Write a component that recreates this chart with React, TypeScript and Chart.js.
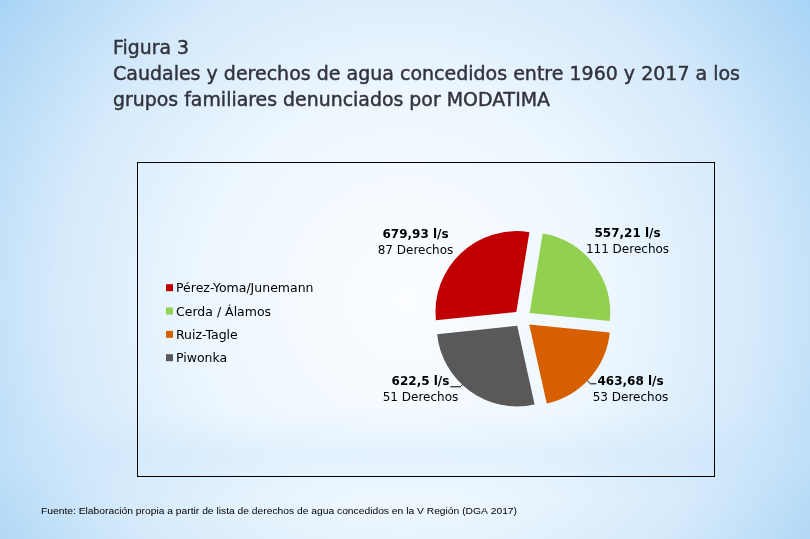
import React, { useEffect, useRef } from 'react';
import { Chart, registerables } from 'chart.js';

Chart.register(...registerables);

// ---------- data ----------
const TITLE_LINES = [
  'Figura 3',
  'Caudales y derechos de agua concedidos entre 1960 y 2017 a los',
  'grupos familiares denunciados por MODATIMA',
];
const CATEGORIES = ['Pérez-Yoma/Junemann', 'Cerda / Álamos', 'Ruiz-Tagle', 'Piwonka'];
const FLOW_LPS = [679.93, 557.21, 463.68, 622.5];
const RIGHTS_COUNT = [87, 111, 53, 51];
const COLORS = ['#C00000', '#92D050', '#D65F00', '#595959'];
const SOURCE_NOTE =
  'Fuente: Elaboración propia a partir de lista de derechos de agua concedidos en la V Región (DGA 2017)';

// ---------- layout (not data) ----------
const TITLE_X = 113;
const TITLE_BASELINES = [54, 80, 106];
const TITLE_WIDTHS = [76, 627, 437];
const LABEL_OFFSETS = [
  [-107, -77],
  [105, -78],
  [108, 70],
  [-102, 70],
];
const LEADER_SIDE: (string | null)[] = [null, null, 'left', 'right'];

const fmt = (v: number) => String(v).replace('.', ',') + ' l/s';

function fitText(
  ctx: CanvasRenderingContext2D,
  text: string,
  x: number,
  y: number,
  width: number,
  stroke = false
) {
  const m = ctx.measureText(text).width;
  ctx.save();
  ctx.translate(x, y);
  ctx.scale(width / m, 1);
  ctx.fillText(text, 0, 0);
  if (stroke) ctx.strokeText(text, 0, 0);
  ctx.restore();
}

const backgroundPlugin = {
  id: 'slideBackground',
  beforeDraw(chart: any) {
    const ctx: CanvasRenderingContext2D = chart.ctx;
    const w = chart.width;
    const h = chart.height;
    ctx.save();
    const g = ctx.createRadialGradient(405, 300, 0, 405, 300, 500);
    g.addColorStop(0, '#fbfdff');
    g.addColorStop(0.4, '#eef7fe');
    g.addColorStop(0.7, '#d5eafb');
    g.addColorStop(1, '#a9d4f5');
    ctx.fillStyle = g;
    ctx.fillRect(0, 0, w, h);

    // soft horizontal band near the bottom
    const b = ctx.createLinearGradient(0, 410, 0, 500);
    b.addColorStop(0, 'rgba(200,228,250,0)');
    b.addColorStop(0.5, 'rgba(200,228,250,0.35)');
    b.addColorStop(1, 'rgba(200,228,250,0)');
    ctx.fillStyle = b;
    ctx.fillRect(0, 410, w, 90);

    // title
    ctx.fillStyle = '#33333d';
    ctx.strokeStyle = '#33333d';
    ctx.lineWidth = 0.45;
    ctx.textAlign = 'left';
    ctx.textBaseline = 'alphabetic';
    ctx.font = '19px "DejaVu Sans"';
    TITLE_LINES.forEach((t, i) =>
      fitText(ctx, t, TITLE_X, TITLE_BASELINES[i], TITLE_WIDTHS[i], true)
    );

    // chart frame
    ctx.strokeStyle = '#000';
    ctx.lineWidth = 1;
    ctx.strokeRect(137.5, 162.5, 577, 314);

    // source note
    ctx.fillStyle = '#000';
    ctx.font = '9.5px "Liberation Sans"';
    fitText(ctx, SOURCE_NOTE, 41, 514, 476);
    ctx.restore();
  },
};

const legendPlugin = {
  id: 'sideLegend',
  afterDraw(chart: any) {
    const ctx: CanvasRenderingContext2D = chart.ctx;
    const labels: string[] = chart.data.labels;
    const colors: string[] = chart.data.datasets[0].backgroundColor;
    ctx.save();
    ctx.font = '12.5px "DejaVu Sans"';
    ctx.textAlign = 'left';
    ctx.textBaseline = 'alphabetic';
    labels.forEach((lab, i) => {
      const cy = 287.7 + i * 23.33;
      ctx.fillStyle = colors[i];
      ctx.fillRect(166, cy - 3.5, 7, 7);
      ctx.fillStyle = '#000';
      ctx.fillText(lab, 176, cy + 4.6);
    });
    ctx.restore();
  },
};

const labelPlugin = {
  id: 'sliceLabels',
  afterDatasetsDraw(chart: any) {
    const ctx: CanvasRenderingContext2D = chart.ctx;
    const meta = chart.getDatasetMeta(0);
    const values: number[] = chart.data.datasets[0].data;
    ctx.save();
    meta.data.forEach((arc: any, i: number) => {
      const { x, y, startAngle, endAngle, outerRadius } = arc.getProps(
        ['x', 'y', 'startAngle', 'endAngle', 'outerRadius'],
        true
      );
      const mid = (startAngle + endAngle) / 2;
      const off = (arc.options.offset || 0) / 4;
      const fix = 1 - Math.sin(Math.min(Math.PI, endAngle - startAngle));
      const t = off + off * fix;
      const ax = x + Math.cos(mid) * t;
      const ay = y + Math.sin(mid) * t;

      const lx = x + LABEL_OFFSETS[i][0];
      const ly = y + LABEL_OFFSETS[i][1];
      const boldY = ly - 7.7;
      const normY = ly + 7.7;
      ctx.fillStyle = '#000';
      ctx.textAlign = 'center';
      ctx.textBaseline = 'alphabetic';
      ctx.font = 'bold 12px "DejaVu Sans"';
      const vt = fmt(values[i]);
      const bw = ctx.measureText(vt).width;
      ctx.fillText(vt, lx, boldY + 4.4);
      ctx.font = '12px "DejaVu Sans"';
      ctx.fillText(`${RIGHTS_COUNT[i]} Derechos`, lx, normY + 4.4);

      const side = LEADER_SIDE[i];
      if (side) {
        let p1x: number, p1y: number, p2x: number;
        if (side === 'right') {
          p1x = lx + bw / 2 + 1;
          p1y = boldY + 6;
          p2x = p1x + 10;
        } else {
          p1x = lx - bw / 2 - 1;
          p1y = boldY + 3;
          p2x = p1x - 6;
        }
        const vx = p2x - ax;
        const vy = p1y - ay;
        const len = Math.hypot(vx, vy);
        const p3x = ax + (vx / len) * outerRadius;
        const p3y = ay + (vy / len) * outerRadius;
        ctx.strokeStyle = '#000';
        ctx.lineWidth = 1;
        ctx.beginPath();
        ctx.moveTo(p1x, p1y);
        ctx.lineTo(p2x, p1y);
        ctx.lineTo(p3x, p3y);
        ctx.stroke();
      }
    });
    ctx.restore();
  },
};

export default function App() {
  const ref = useRef<HTMLCanvasElement | null>(null);
  useEffect(() => {
    if (!ref.current) return;
    const chart = new Chart(ref.current, {
      type: 'pie',
      data: {
        labels: CATEGORIES,
        datasets: [
          {
            data: FLOW_LPS,
            backgroundColor: COLORS,
            borderWidth: 0,
            offset: 36,
            hoverOffset: 0,
          },
        ],
      },
      options: {
        responsive: false,
        maintainAspectRatio: false,
        devicePixelRatio: 1,
        animation: false,
        events: [],
        rotation: -96,
        radius: 80.5,
        layout: { padding: { left: 422, right: 187, top: 218, bottom: 120 } },
        plugins: {
          legend: { display: false },
          tooltip: { enabled: false },
          title: { display: false },
        },
      } as any,
      plugins: [backgroundPlugin, labelPlugin, legendPlugin],
    });
    return () => chart.destroy();
  }, []);
  return (
    <div style={{ position: 'fixed', left: 0, top: 0, width: 810, height: 539 }}>
      <canvas ref={ref} width={810} height={539} style={{ display: 'block', width: 810, height: 539 }} />
    </div>
  );
}
